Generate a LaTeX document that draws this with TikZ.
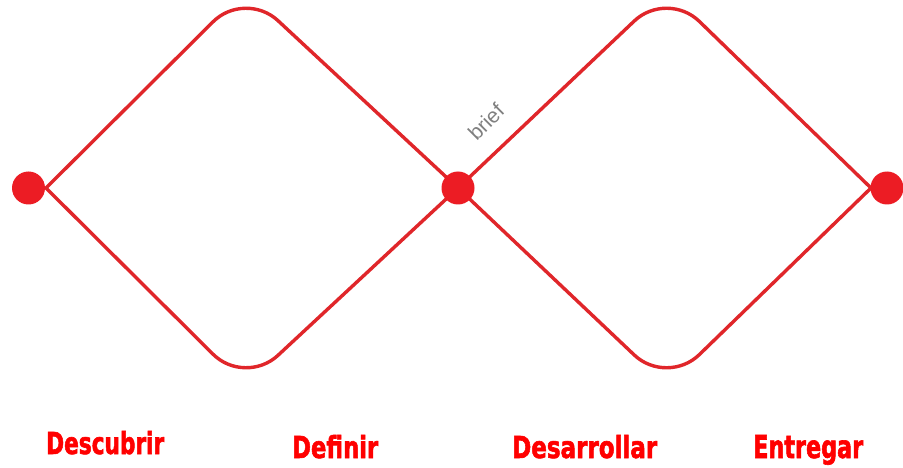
\documentclass[tikz,border=0pt]{standalone}
\usepackage{fontspec}
\usepackage{graphicx}
\setmainfont{Liberation Sans}
\newfontfamily\lblfont{DejaVu Sans Condensed}[BoldFeatures={FakeBold=2}]
\definecolor{linered}{HTML}{E0262A}
\definecolor{dotred}{HTML}{EC1C24}
\definecolor{lblred}{HTML}{FF0000}
\definecolor{briefgray}{HTML}{808080}
\tikzset{
  edge/.style={draw=linered, line width=3.4pt, rounded corners=45pt, line cap=round},
  dotnode/.style={circle, fill=dotred, draw=none, minimum size=33pt, inner sep=0pt},
  lbl/.style={text=lblred, inner sep=0pt, anchor=base west},
  brieflbl/.style={text=briefgray, font=\fontsize{21}{24}\selectfont, inner sep=0pt}
}
\newcommand{\lbltext}[2]{\resizebox{#1}{23pt}{\lblfont\bfseries #2}}
\begin{document}
\begin{tikzpicture}[x=1pt,y=-1pt]
\useasboundingbox (0,0) rectangle (903,468);
\fill[white] (0,0) rectangle (903,468);
% diamond corners
\coordinate (aL) at (46,188);
\coordinate (aT) at (245,-10);
\coordinate (aR) at (458,188);
\coordinate (aB) at (245,386);
\coordinate (bL) at (458,188);
\coordinate (bT) at (667,-10);
\coordinate (bR) at (871,188);
\coordinate (bB) at (667,386);
% left diamond
\draw[edge] (aL) -- (aT) -- (aR);
\draw[edge] (aL) -- (aB) -- (aR);
% right diamond
\draw[edge] (bL) -- (bT) -- (bR);
\draw[edge] (bL) -- (bB) -- (bR);
% dots
\node[dotnode] (p1) at (28.5,188) {};
\node[dotnode] (p2) at (458,188) {};
\node[dotnode] (p3) at (887,188) {};
% brief
\node[brieflbl, rotate=45] (brief) at (486,122) {brief};
% labels
\node[lbl] (l1) at (46,454) {\lbltext{118pt}{Descubrir}};
\node[lbl] (l2) at (292,458) {\lbltext{86pt}{Definir}};
\node[lbl] (l3) at (512,458) {\lbltext{145pt}{Desarrollar}};
\node[lbl] (l4) at (753,458) {\lbltext{110pt}{Entregar}};
\end{tikzpicture}
\end{document}
